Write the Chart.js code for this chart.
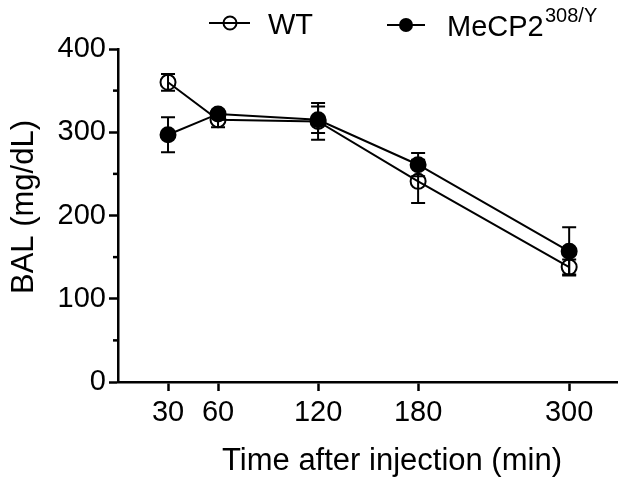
<!DOCTYPE html>
<html>
<head>
<meta charset="utf-8">
<script src="https://cdn.jsdelivr.net/npm/chart.js@4.4.0/dist/chart.umd.min.js"></script>
<style>
  html, body { margin: 0; padding: 0; background: #fff; }
  #wrap { width: 629px; height: 488px; }
</style>
</head>
<body>
<div id="wrap"><canvas id="bal-chart"></canvas></div>
<script>
const times = [30, 60, 120, 180, 300];
const xTicks = [30, 60, 120, 180, 300];
const yTicks = [0, 100, 200, 300, 400];
const yMinorTicks = [50, 150, 250, 350];

const wtMean = [360, 315, 313, 241, 138];
const wtErr = [10, 9, 22, 26, 9];
const mecpMean = [297, 322, 315, 261, 157];
const mecpErr = [21, 5, 16, 14, 29];

const FONT = "'Liberation Sans', Arial, sans-serif";

// x axis is squeezed after 180 min (like the original figure)
const BREAK = 180, SQUEEZE = 0.755;
const warp = v => v <= BREAK ? v : BREAK + (v - BREAK) * SQUEEZE;
const unwarp = u => u <= BREAK ? u : BREAK + (u - BREAK) / SQUEEZE;

class SqueezedScale extends Chart.LinearScale {
    getPixelForValue(value) {
        const a = warp(this.min), b = warp(this.max);
        return this.getPixelForDecimal((warp(value) - a) / (b - a));
    }
    getValueForPixel(pixel) {
        const a = warp(this.min), b = warp(this.max);
        return unwarp(a + this.getDecimalForPixel(pixel) * (b - a));
    }
}
SqueezedScale.id = 'squeezed';
SqueezedScale.defaults = Chart.LinearScale.defaults;
Chart.register(SqueezedScale);

const toPoints = (xs, ys) => xs.map((x, i) => ({ x: x, y: ys[i] }));

const errorBars = {
    id: 'errorBars',
    beforeDatasetsDraw(chart) {
        const ctx = chart.ctx;
        const xs = chart.scales.x, ys = chart.scales.y;
        const sets = [[wtMean, wtErr], [mecpMean, mecpErr]];
        ctx.save();
        ctx.strokeStyle = '#000';
        ctx.lineWidth = 2;
        sets.forEach(([means, errs]) => {
            times.forEach((t, i) => {
                const px = xs.getPixelForValue(t);
                const top = ys.getPixelForValue(means[i] + errs[i]);
                const bot = ys.getPixelForValue(means[i] - errs[i]);
                ctx.beginPath();
                ctx.moveTo(px, top); ctx.lineTo(px, bot);
                ctx.moveTo(px - 7, top); ctx.lineTo(px + 7, top);
                ctx.moveTo(px - 7, bot); ctx.lineTo(px + 7, bot);
                ctx.stroke();
            });
        });
        ctx.restore();
    }
};

const extras = {
    id: 'extras',
    afterDraw(chart) {
        const ctx = chart.ctx;
        const ys = chart.scales.y;
        ctx.save();
        ctx.strokeStyle = '#000';
        ctx.fillStyle = '#000';

        // minor y ticks
        ctx.lineWidth = 2.5;
        const axisX = chart.chartArea.left;
        yMinorTicks.forEach(v => {
            const py = ys.getPixelForValue(v);
            ctx.beginPath();
            ctx.moveTo(axisX - 5, py); ctx.lineTo(axisX, py);
            ctx.stroke();
        });

        // axis titles
        ctx.font = '31px ' + FONT;
        ctx.textAlign = 'center';
        ctx.textBaseline = 'alphabetic';
        ctx.fillText('Time after injection (min)', 392, 470);
        ctx.save();
        ctx.translate(33, 207);
        ctx.rotate(-Math.PI / 2);
        ctx.fillText('BAL (mg/dL)', 0, 0);
        ctx.restore();

        // legend
        ctx.lineWidth = 2;
        ctx.beginPath();
        ctx.moveTo(209, 23); ctx.lineTo(250, 23);
        ctx.stroke();
        ctx.beginPath();
        ctx.arc(230, 23, 6.5, 0, Math.PI * 2);
        ctx.stroke();

        ctx.beginPath();
        ctx.moveTo(387, 25); ctx.lineTo(425, 25);
        ctx.stroke();
        ctx.beginPath();
        ctx.arc(406, 25, 7, 0, Math.PI * 2);
        ctx.fill();

        ctx.textAlign = 'left';
        ctx.font = '29px ' + FONT;
        ctx.fillText('WT', 268, 34);
        ctx.fillText('MeCP2', 447, 36);
        ctx.font = '20px ' + FONT;
        ctx.fillText('308/Y', 545, 22);
        ctx.restore();
    }
};

new Chart(document.getElementById('bal-chart'), {
    type: 'line',
    data: {
        datasets: [
            {
                label: 'WT',
                data: toPoints(times, wtMean),
                borderColor: '#000',
                borderWidth: 2,
                pointRadius: 7.5,
                pointBorderWidth: 2,
                pointBorderColor: '#000',
                pointBackgroundColor: 'rgba(0,0,0,0)',
                fill: false
            },
            {
                label: 'MeCP2 308/Y',
                data: toPoints(times, mecpMean),
                borderColor: '#000',
                borderWidth: 2,
                pointRadius: 7.5,
                pointBorderWidth: 2,
                pointBorderColor: '#000',
                pointBackgroundColor: '#000',
                fill: false
            }
        ]
    },
    options: {
        responsive: true,
        maintainAspectRatio: false,
        animation: false,
        layout: { padding: { top: 49, right: 12, left: 0, bottom: 0 } },
        plugins: {
            legend: { display: false },
            tooltip: { enabled: false }
        },
        scales: {
            x: {
                type: 'squeezed',
                min: 0,
                max: 338,
                afterBuildTicks: s => { s.ticks = xTicks.map(v => ({ value: v })); },
                afterFit: s => { s.height = 106; },
                border: { display: true, color: '#000', width: 2.5 },
                grid: { drawOnChartArea: false, drawTicks: true, tickLength: 9, tickWidth: 2.5, tickColor: '#000' },
                ticks: { color: '#000', font: { family: FONT, size: 29 }, padding: 5, maxRotation: 0, autoSkip: false }
            },
            y: {
                min: 0,
                max: 400,
                afterBuildTicks: s => { s.ticks = yTicks.map(v => ({ value: v })); },
                afterFit: s => { s.width = 118; },
                border: { display: true, color: '#000', width: 2.5 },
                grid: { drawOnChartArea: false, drawTicks: true, tickLength: 9, tickWidth: 2.5, tickColor: '#000' },
                ticks: { color: '#000', font: { family: FONT, size: 29 }, padding: 3 }
            }
        }
    },
    plugins: [errorBars, extras]
});
</script>
</body>
</html>
